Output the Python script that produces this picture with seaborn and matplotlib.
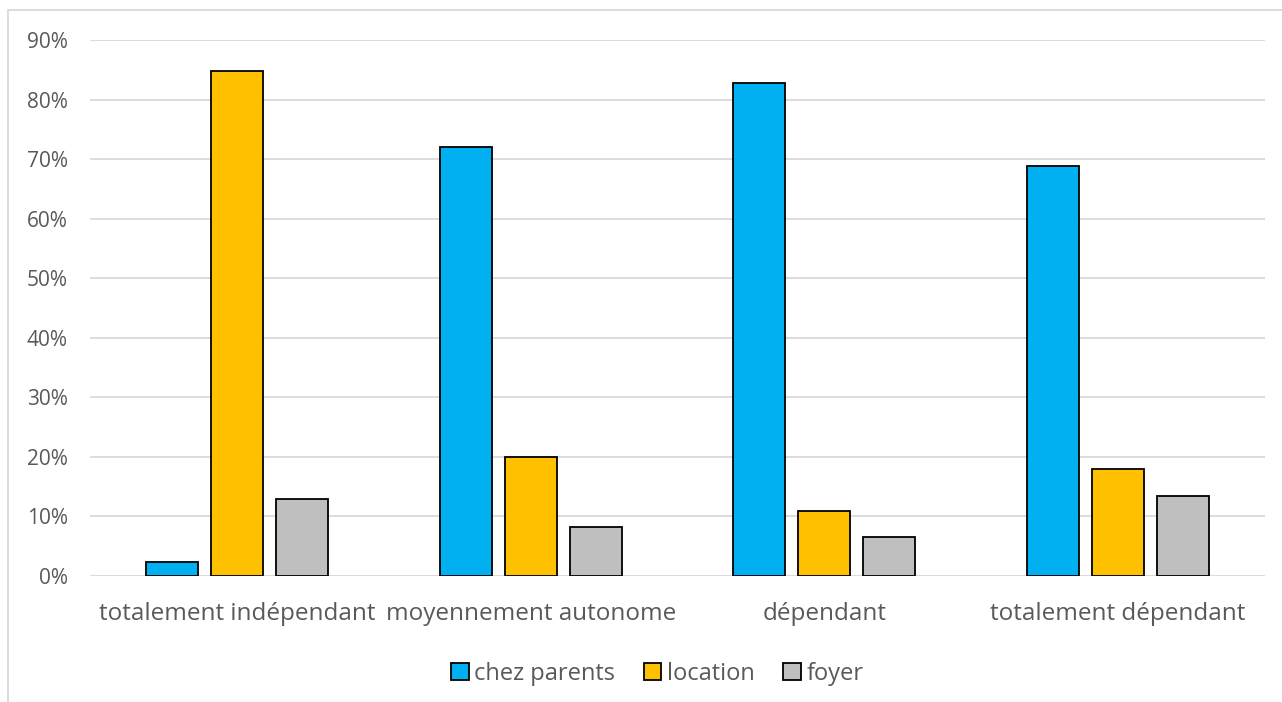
import numpy as np
import pandas as pd
import matplotlib
matplotlib.use("Agg")
import matplotlib.pyplot as plt
import seaborn as sns
from matplotlib.patches import Rectangle
from matplotlib.ticker import PercentFormatter

categories = ["totalement indépendant", "moyennement autonome", "dépendant", "totalement dépendant"]
chez_parents = [0.024, 0.720, 0.827, 0.688]
location = [0.848, 0.200, 0.109, 0.180]
foyer = [0.129, 0.082, 0.065, 0.134]
series_names = ["chez parents", "location", "foyer"]
colors = ["#00B0F0", "#FFC000", "#BFBFBF"]

df = pd.DataFrame({
    "cat": categories * 3,
    "serie": np.repeat(series_names, len(categories)),
    "val": chez_parents + location + foyer,
})

sns.set_theme(style="white")
plt.rcParams['font.family'] = ['Open Sans', 'DejaVu Sans']
txt = "#595959"

fig = plt.figure(figsize=(12.82, 7.02), dpi=100)
ax = fig.add_axes([90 / 1282, 1 - 576 / 702, (1265 - 90) / 1282, (576 - 40) / 702])

sns.barplot(data=df, x="cat", y="val", hue="serie", palette=colors, ax=ax,
            width=0.664, gap=0.2, edgecolor="black", linewidth=1.3, saturation=1)

ax.set_ylim(0, 0.9)
ax.set_xlim(-0.5, 3.5)
ax.set_yticks(np.arange(0, 0.91, 0.1))
ax.yaxis.set_major_formatter(PercentFormatter(1.0, decimals=0))
ax.grid(axis="y", color="#D9D9D9", linewidth=1.3)
ax.set_axisbelow(True)
for s in ax.spines.values():
    s.set_visible(False)
ax.set_xlabel("")
ax.set_ylabel("")
ax.tick_params(axis="y", labelsize=15, colors=txt, length=0, pad=16)
ax.tick_params(axis="x", labelsize=17.5, colors=txt, length=0, pad=19)

ax.legend(loc="center", bbox_to_anchor=(0.483, -0.182), ncol=3, frameon=False,
          fontsize=17, handlelength=0.75, handleheight=0.75, handletextpad=0.25,
          columnspacing=1.2, labelcolor=txt)

fig.patches.append(Rectangle((8 / 1282, -0.1), 1.2, 1 - 10 / 702 + 0.1,
                             transform=fig.transFigure, fill=False,
                             edgecolor="#D9D9D9", linewidth=1.3))

fig.savefig("out.png", dpi=100)
